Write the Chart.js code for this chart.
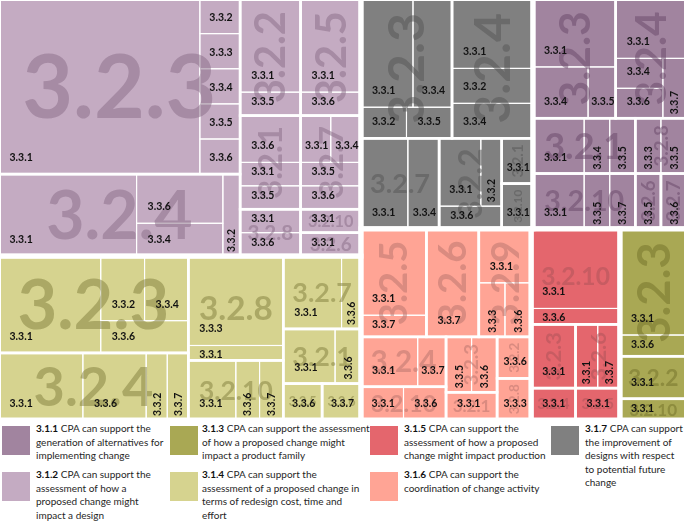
<!DOCTYPE html>
<html>
<head>
<meta charset="utf-8">
<script src="https://cdn.jsdelivr.net/npm/chart.js@4.4.1/dist/chart.umd.min.js"></script>
<style>
html,body{margin:0;padding:0;background:#fff;}
#wrap{position:relative;width:685px;height:523px;overflow:hidden;font-family:Lato,"Open Sans",sans-serif;}
#chartBox{position:absolute;left:0;top:0;width:685px;height:420px;}
.item{position:absolute;}
.sw{position:absolute;left:0;top:0;width:28px;height:29px;}
.lt{position:absolute;top:-4px;font-size:10px;line-height:13.5px;color:#262626;white-space:nowrap;}
.lt b{font-weight:700;color:#111;}
.c0{left:2px;} .c1{left:170px;} .c2{left:370px;} .c3{left:551px;}
.r0{top:426px;} .r1{top:472px;}
.c0 .lt{left:34px;} .c1 .lt{left:32px;} .c2 .lt{left:34px;} .c3 .lt{left:34px;}
</style>
</head>
<body>
<div id="wrap">
  <div id="chartBox"><canvas id="c"></canvas></div>
  <div id="legend"></div>
</div>
<script>
// ---------------- DATA ----------------
const capabilities = ['3.1.1','3.1.2','3.1.3','3.1.4','3.1.5','3.1.6','3.1.7'];
const capabilityLines = [
  ['CPA can support the','generation of alternatives for','implementing change'],
  ['CPA can support the','assessment of how a','proposed change might','impact a design'],
  ['CPA can support the assessment','of how a proposed change might','impact a product family'],
  ['CPA can support the','assessment of a proposed change in','terms of redesign cost, time and','effort'],
  ['CPA can support the','assessment of how a proposed','change might impact production'],
  ['CPA can support the','coordination of change activity'],
  ['CPA can support','the improvement of','designs with respect','to potential future','change']
];

// [sub-theme, item, count]
const cpa311 = [
  ['3.2.3','3.3.1',4],['3.2.3','3.3.4',2],['3.2.3','3.3.5',1],
  ['3.2.4','3.3.1',3],['3.2.4','3.3.4',1],['3.2.4','3.3.6',1],['3.2.4','3.3.7',1],
  ['3.2.1','3.3.1',2],['3.2.1','3.3.4',1],['3.2.1','3.3.5',1],
  ['3.2.8','3.3.3',1],['3.2.8','3.3.5',1],
  ['3.2.10','3.3.1',2],['3.2.10','3.3.5',1],['3.2.10','3.3.7',1],
  ['3.2.6','3.3.5',1],
  ['3.2.7','3.3.6',1]
];
const cpa312 = [
  ['3.2.3','3.3.1',25],['3.2.3','3.3.2',1],['3.2.3','3.3.3',1],['3.2.3','3.3.4',1],['3.2.3','3.3.5',1],['3.2.3','3.3.6',1],
  ['3.2.4','3.3.1',8],['3.2.4','3.3.6',3],['3.2.4','3.3.4',2],['3.2.4','3.3.2',1],
  ['3.2.2','3.3.1',4],['3.2.2','3.3.5',1],
  ['3.2.5','3.3.1',4],['3.2.5','3.3.6',1],
  ['3.2.1','3.3.6',2],['3.2.1','3.3.1',1],['3.2.1','3.3.5',1],
  ['3.2.7','3.3.1',1],['3.2.7','3.3.4',1],['3.2.7','3.3.5',1],['3.2.7','3.3.6',1],
  ['3.2.8','3.3.1',1],['3.2.8','3.3.6',1],
  ['3.2.10','3.3.1',1],
  ['3.2.6','3.3.1',1]
];
const cpa313 = [
  ['3.2.3','3.3.1',5],['3.2.3','3.3.6',1],
  ['3.2.2','3.3.1',2],
  ['3.2.10','3.3.1',1]
];
const cpa314 = [
  ['3.2.3','3.3.1',7],['3.2.3','3.3.2',2],['3.2.3','3.3.4',2],['3.2.3','3.3.6',2],
  ['3.2.4','3.3.1',4],['3.2.4','3.3.6',3],['3.2.4','3.3.2',1],['3.2.4','3.3.7',1],
  ['3.2.8','3.3.3',6],['3.2.8','3.3.1',1],
  ['3.2.10','3.3.1',2],['3.2.10','3.3.6',1],['3.2.10','3.3.7',1],
  ['3.2.7','3.3.1',3],['3.2.7','3.3.6',1],
  ['3.2.1','3.3.1',2],['3.2.1','3.3.6',1],
  ['3.2.5','3.3.6',1],
  ['3.2.6','3.3.7',1]
];
const cpa315 = [
  ['3.2.10','3.3.1',5],['3.2.10','3.3.6',1],
  ['3.2.3','3.3.1',2],
  ['3.2.6','3.3.1',1],['3.2.6','3.3.7',1],
  ['3.2.4','3.3.1',1],
  ['3.2.5','3.3.1',1]
];
const cpa316 = [
  ['3.2.5','3.3.1',4],['3.2.5','3.3.7',1],
  ['3.2.6','3.3.7',4],
  ['3.2.9','3.3.1',2],['3.2.9','3.3.3',1],['3.2.9','3.3.6',1],
  ['3.2.4','3.3.1',2],['3.2.4','3.3.7',1],
  ['3.2.10','3.3.1',1],['3.2.10','3.3.6',1],
  ['3.2.3','3.3.5',1],['3.2.3','3.3.6',1],
  ['3.2.1','3.3.1',1],
  ['3.2.2','3.3.6',1],
  ['3.2.8','3.3.3',1]
];
const cpa317 = [
  ['3.2.3','3.3.1',4],['3.2.3','3.3.4',3],['3.2.3','3.3.2',1],['3.2.3','3.3.5',1],
  ['3.2.4','3.3.1',4],['3.2.4','3.3.2',2],['3.2.4','3.3.4',2],
  ['3.2.7','3.3.1',3],['3.2.7','3.3.4',2],
  ['3.2.2','3.3.1',2],['3.2.2','3.3.2',1],['3.2.2','3.3.6',1],
  ['3.2.1','3.3.1',1],
  ['3.2.10','3.3.1',1]
];
const cellTables = [cpa311, cpa312, cpa313, cpa314, cpa315, cpa316, cpa317];

// ---------------- STYLES ----------------
const fillColors = ['#A1849F','#C4ABC2','#A9A854','#D6D38F','#E4666D','#FFA495','#808080'];
const bigLabelColors = ['rgba(103,70,103,0.5)','rgba(136,107,133,0.5)','rgba(113,112,40,0.5)',
  'rgba(128,125,59,0.5)','rgba(170,82,87,0.5)','rgba(181,114,107,0.5)','rgba(84,84,84,0.5)'];

// ---------------- LAYOUT STRUCTURE (arrangement only; sizes come from counts) ----------------
const H = (...c) => ({d:'h', c});
const V = (...c) => ({d:'v', c});
const topLayout = H(V('3.1.2','3.1.4'), V(H('3.1.7','3.1.1'), H('3.1.6','3.1.5','3.1.3')));
const subLayouts = {
  '3.1.1': V(H('3.2.3','3.2.4'), H('3.2.1','3.2.8'), H('3.2.10','3.2.6','3.2.7')),
  '3.1.2': H(V('3.2.3','3.2.4'), V(H('3.2.2','3.2.5'), H('3.2.1','3.2.7'), H('3.2.8', V('3.2.10','3.2.6')))),
  '3.1.3': V('3.2.3','3.2.2','3.2.10'),
  '3.1.4': H(V('3.2.3','3.2.4'), V('3.2.8','3.2.10'), V('3.2.7','3.2.1', H('3.2.5','3.2.6'))),
  '3.1.5': V('3.2.10', H(V('3.2.3','3.2.4'), V('3.2.6','3.2.5'))),
  '3.1.6': V(H('3.2.5','3.2.6','3.2.9'), H(V('3.2.4','3.2.10'), V('3.2.3','3.2.1'), V('3.2.2','3.2.8'))),
  '3.1.7': V(H('3.2.3','3.2.4'), H('3.2.7','3.2.2', V('3.2.1','3.2.10')))
};
const itemLayouts = {
  '3.1.1': {'3.2.3': V('3.3.1', H('3.3.4','3.3.5')), '3.2.4': V('3.3.1', H(V('3.3.4','3.3.6'),'3.3.7')),
            '3.2.1':'h','3.2.8':'h','3.2.10':'h'},
  '3.1.2': {'3.2.3': H('3.3.1', V('3.3.2','3.3.3','3.3.4','3.3.5','3.3.6')), '3.2.4': H('3.3.1', V('3.3.6','3.3.4'), '3.3.2'),
            '3.2.2':'v','3.2.5':'v','3.2.1':'v','3.2.7': V(H('3.3.1','3.3.4'),'3.3.5','3.3.6'),'3.2.8':'v'},
  '3.1.3': {'3.2.3':'v'},
  '3.1.4': {'3.2.3': H('3.3.1', V(H('3.3.2','3.3.4'),'3.3.6')), '3.2.4':'h','3.2.8':'v','3.2.10':'h','3.2.7':'h','3.2.1':'h'},
  '3.1.5': {'3.2.10':'v','3.2.6':'h'},
  '3.1.6': {'3.2.5':'v','3.2.9': V('3.3.1', H('3.3.3','3.3.6')),'3.2.4':'h','3.2.10':'h','3.2.3':'h'},
  '3.1.7': {'3.2.3': V(H('3.3.1','3.3.4'), H('3.3.2','3.3.5')), '3.2.4':'v','3.2.7':'h','3.2.2': V(H('3.3.1','3.3.2'),'3.3.6')}
};

// ---------------- LAYOUT COMPUTATION ----------------
function nodeVal(n, val){ return typeof n === 'string' ? val[n] : n.c.reduce((s,c)=>s+nodeVal(c,val),0); }
function place(n, r, val, out){
  if (typeof n === 'string'){ out[n] = r; return; }
  const tot = nodeVal(n, val); let off = 0;
  n.c.forEach(ch => {
    const f = nodeVal(ch, val) / tot;
    const cr = n.d === 'h' ? {x:r.x+off*r.w, y:r.y, w:f*r.w, h:r.h} : {x:r.x, y:r.y+off*r.h, w:r.w, h:f*r.h};
    off += f; place(ch, cr, val, out);
  });
}
function buildTree(){
  const capVal = {}, subs = {};
  capabilities.forEach((cap,i) => {
    const t = cellTables[i]; const sv = {}, leaves = {};
    t.forEach(([s,l,v]) => { sv[s] = (sv[s]||0) + v; (leaves[s] = leaves[s]||{})[l] = v; });
    capVal[cap] = t.reduce((a,r)=>a+r[2],0);
    subs[cap] = {sv, leaves};
  });
  const capRects = {}; place(topLayout, {x:0,y:0,w:1,h:1}, capVal, capRects);
  const caps = [], subsOut = [], leavesOut = [];
  capabilities.forEach((cap,i) => {
    caps.push({cap, i, r:capRects[cap]});
    const subRects = {}; place(subLayouts[cap], capRects[cap], subs[cap].sv, subRects);
    Object.keys(subs[cap].sv).forEach(s => {
      subsOut.push({cap, i, sub:s, r:subRects[s]});
      const lv = subs[cap].leaves[s]; const names = Object.keys(lv);
      let lay = (itemLayouts[cap]||{})[s];
      if (!lay || typeof lay === 'string') lay = (lay === 'h' ? H : V)(...names);
      const lr = {}; place(lay, subRects[s], lv, lr);
      names.forEach(l => leavesOut.push({cap, i, sub:s, leaf:l, v:lv[l], r:lr[l]}));
    });
  });
  return {caps, subsOut, leavesOut};
}
const tree = buildTree();

// ---------------- DRAWING PLUGIN ----------------
const treemapPlugin = {
  id: 'treemapCells',
  afterDatasetsDraw(chart){
    const ctx = chart.ctx, xs = chart.scales.x, ys = chart.scales.y;
    const px = r => { const x0 = xs.getPixelForValue(r.x), x1 = xs.getPixelForValue(r.x+r.w);
      const y0 = ys.getPixelForValue(r.y), y1 = ys.getPixelForValue(r.y+r.h);
      return {x:x0, y:Math.min(y0,y1), w:x1-x0, h:Math.abs(y1-y0)}; };
    ctx.save();
    tree.leavesOut.forEach(o => { const r = px(o.r); ctx.fillStyle = fillColors[o.i]; ctx.fillRect(r.x, r.y, r.w, r.h); });
    ctx.strokeStyle = '#ffffff';
    ctx.lineWidth = 1.1;
    tree.leavesOut.forEach(o => { const r = px(o.r); ctx.strokeRect(r.x, r.y, r.w, r.h); });
    ctx.lineWidth = 2.6;
    tree.subsOut.forEach(o => { const r = px(o.r); ctx.strokeRect(r.x, r.y, r.w, r.h); });
    ctx.lineWidth = 5;
    tree.caps.forEach(o => { const r = px(o.r); ctx.strokeRect(r.x, r.y, r.w, r.h); });
    // big sub-theme labels
    tree.subsOut.forEach(o => {
      const r = px(o.r);
      const rot = r.h > r.w && (r.w < 70 || r.h > r.w * 1.3);
      const L = rot ? r.h : r.w, S = rot ? r.w : r.h;
      ctx.font = 'bold 100px Lato';
      const em = ctx.measureText(o.sub).width / 100;
      let fs = (L*0.82 - 4) / em;
      fs = Math.min(fs, S*0.58/0.72);
      if (fs < 4) return;
      ctx.save();
      ctx.translate(r.x + r.w/2, r.y + r.h/2);
      if (rot) ctx.rotate(-Math.PI/2);
      ctx.font = 'bold ' + fs.toFixed(1) + 'px Lato';
      ctx.textAlign = 'center'; ctx.textBaseline = 'alphabetic';
      ctx.fillStyle = bigLabelColors[o.i];
      ctx.fillText(o.sub, 0, fs*0.72/2);
      ctx.restore();
    });
    // item labels
    ctx.font = 'bold 10.5px Lato';
    ctx.fillStyle = '#111';
    ctx.textBaseline = 'alphabetic';
    tree.leavesOut.forEach(o => {
      const r = px(o.r);
      const tw = ctx.measureText(o.leaf).width;
      if (r.w <= 26.5 && r.h > r.w){
        ctx.save();
        ctx.translate(r.x + r.w/2 + 3.8, r.y + r.h - 4);
        ctx.rotate(-Math.PI/2);
        ctx.textAlign = 'left';
        ctx.fillText(o.leaf, 0, 0);
        ctx.restore();
      } else {
        const dx = Math.max(1, Math.min(10, (r.w - tw)/2));
        const off = Math.max(1, Math.min(12, r.h - 14));
        ctx.textAlign = 'left';
        ctx.fillText(o.leaf, r.x + 1 + dx, r.y + r.h - 1 - off);
      }
    });
    ctx.restore();
  }
};

new Chart(document.getElementById('c'), {
  type: 'scatter',
  data: { datasets: [{ data: [], pointRadius: 0 }] },
  options: {
    responsive: true, maintainAspectRatio: false, animation: false,
    layout: { padding: 0 },
    plugins: { legend: {display:false}, tooltip: {enabled:false} },
    scales: {
      x: { type:'linear', display:false, min: 0.00219, max: 1 - 0.00219 },
      y: { type:'linear', display:false, reverse: true, min: 0.00356, max: 1 }
    }
  },
  plugins: [treemapPlugin]
});

// ---------------- LEGEND ----------------
const legend = document.getElementById('legend');
capabilities.forEach((cap, i) => {
  const item = document.createElement('div');
  item.className = 'item c' + Math.floor(i/2) + ' r' + (i%2);
  const sw = document.createElement('div'); sw.className = 'sw'; sw.style.background = fillColors[i];
  const lt = document.createElement('div'); lt.className = 'lt';
  lt.innerHTML = capabilityLines[i].map((line, k) => (k === 0 ? '<b>' + cap + '</b> ' : '') + line).join('<br>');
  item.appendChild(sw); item.appendChild(lt); legend.appendChild(item);
});
</script>
</body>
</html>
